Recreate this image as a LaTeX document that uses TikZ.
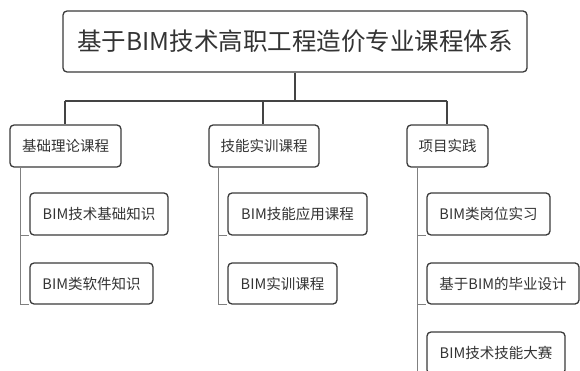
\documentclass[tikz,border=0pt]{standalone}
\usepackage{fontspec}
\setmainfont{Noto Sans CJK SC}
\definecolor{boxline}{HTML}{3A3A3A}
\definecolor{txt}{HTML}{333333}
\definecolor{conn}{HTML}{444444}
\definecolor{subconn}{HTML}{808080}
\begin{document}
\begin{tikzpicture}[x=1pt,y=-1pt,
  box/.style={draw=boxline, line width=1.3pt, rounded corners=4pt, fill=white,
    text=txt, inner sep=0pt, align=center, font=\fontsize{14.5}{16}\selectfont, minimum height=42pt},
  rootbox/.style={box, font=\fontsize{24.5}{28}\selectfont, minimum height=61pt, minimum width=464pt},
  mainconn/.style={draw=conn, line width=1.5pt},
  subline/.style={draw=subconn, line width=1pt}]
\useasboundingbox (0,0) rectangle (580,371);
\clip (0,0) rectangle (580,371);
% coordinates for connectors
\coordinate (hub) at (295,101);
\coordinate (hl) at (65,101);
\coordinate (hr) at (447,101);
\coordinate (hm) at (263,101);
% connectors (drawn first)
\node[rootbox] (root) at (295,41.5) {基于BIM技术高职工程造价专业课程体系};
\node[box, minimum width=111pt] (A) at (65.5,146) {基础理论课程};
\node[box, minimum width=110pt] (B) at (264,146) {技能实训课程};
\node[box, minimum width=81pt] (C) at (447.5,146) {项目实践};
\node[box, minimum width=138pt] (A1) at (99,214) {BIM技术基础知识};
\node[box, minimum width=123pt, minimum height=41pt] (A2) at (91.5,283.5) {BIM类软件知识};
\node[box, minimum width=139pt] (B1) at (297.5,214) {BIM技能应用课程};
\node[box, minimum width=109pt, minimum height=41pt] (B2) at (282.5,283.5) {BIM实训课程};
\node[box, minimum width=123pt] (C1) at (488.5,214) {BIM类岗位实习};
\node[box, minimum width=152pt, minimum height=41pt] (C2) at (503,283.5) {基于BIM的毕业设计};
\node[box, minimum width=138pt] (C3) at (496,353) {BIM技术技能大赛};
\begin{scope}[on background layer/.try]
\end{scope}
% main connectors
\draw[mainconn] (root.south) -- (hub);
\draw[mainconn] (hl) -- (hr);
\draw[mainconn] (hl) -- (hl |- A.north);
\draw[mainconn] (hm) -- (hm |- B.north);
\draw[mainconn] (hr) -- (hr |- C.north);
% sub connectors
\coordinate (av) at (20,167);
\coordinate (bv) at (218,167);
\coordinate (cv) at (417,167);
\draw[subline] (av) -- (av |- A2.south) -- (A2.south west);
\draw[subline] (av |- A1.south) -- (A1.south west);
\draw[subline] (bv) -- (bv |- B2.south) -- (B2.south west);
\draw[subline] (bv |- B1.south) -- (B1.south west);
\draw[subline] (cv) -- (cv |- C3.south) -- (C3.south west);
\draw[subline] (cv |- C1.south) -- (C1.south west);
\draw[subline] (cv |- C2.south) -- (C2.south west);
\end{tikzpicture}
\end{document}
